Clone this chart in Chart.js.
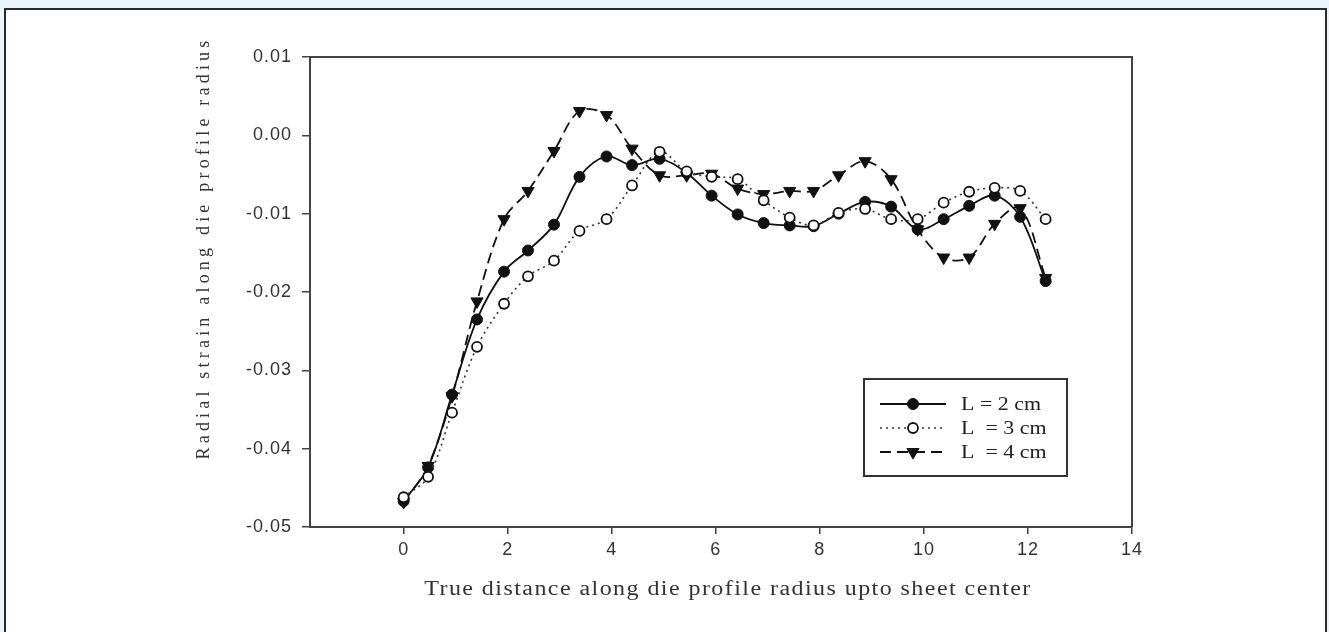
<!DOCTYPE html>
<html>
<head>
<meta charset="utf-8">
<script src="https://cdn.jsdelivr.net/npm/chart.js@4/dist/chart.umd.min.js"></script>
<style>
  body { margin: 0; background: #eaf4fb; width: 1329px; height: 632px; overflow: hidden; position: relative; }
  #frame { position: absolute; left: 4px; top: 8px; width: 1319px; height: 640px; border: 2px solid #2b2b2b; background: #fff; }
  #wrap { position: absolute; left: 0; top: 0; width: 1329px; height: 632px; }
</style>
</head>
<body>
<div id="frame"></div>
<div id="wrap"><canvas id="chart" width="1329" height="632"></canvas></div>
<script>
// 橫軸：沿模具輪廓半徑的真實距離
const distance = [0, 0.47, 0.93, 1.41, 1.93, 2.39, 2.89, 3.38, 3.9, 4.39, 4.92, 5.44, 5.92,
                  6.42, 6.92, 7.42, 7.88, 8.36, 8.87, 9.37, 9.88, 10.38, 10.87, 11.36, 11.85, 12.34];

// 各 L 值的徑向應變
const strainL2 = [-0.0467, -0.0424, -0.0331, -0.0235, -0.0174, -0.0147, -0.0114, -0.0053, -0.0027,
                  -0.0038, -0.0030, -0.0048, -0.0077, -0.0101, -0.0112, -0.0115, -0.0116, -0.0100,
                  -0.0085, -0.0091, -0.0120, -0.0107, -0.0090, -0.0077, -0.0104, -0.0186];
const strainL3 = [-0.0462, -0.0436, -0.0354, -0.0270, -0.0215, -0.0180, -0.0160, -0.0122, -0.0107,
                  -0.0064, -0.0021, -0.0046, -0.0053, -0.0056, -0.0083, -0.0105, -0.0115, -0.0099,
                  -0.0094, -0.0107, -0.0107, -0.0086, -0.0072, -0.0067, -0.0071, -0.0107];
const strainL4 = [-0.0468, -0.0422, -0.0333, -0.0212, -0.0107, -0.0071, -0.0020, 0.0031, 0.0026,
                  -0.0017, -0.0051, -0.0051, -0.0049, -0.0068, -0.0075, -0.0071, -0.0071, -0.0051,
                  -0.0033, -0.0056, -0.0120, -0.0156, -0.0156, -0.0113, -0.0093, -0.0182];

const seriesLabels = ["L = 2 cm", "L  = 3 cm", "L  = 4 cm"];
const xTicks = [0, 2, 4, 6, 8, 10, 12, 14];
const yTicks = [-0.05, -0.04, -0.03, -0.02, -0.01, 0.00, 0.01];

const xTitle = "True distance along die profile radius upto sheet center";
const yTitle = "Radial strain along die profile radius";

function toPoints(ys) {
    return distance.map((x, i) => ({ x: x, y: ys[i] }));
}

// 橫向拉寬的文字
function wideText(ctx, text, x, y, sx) {
    ctx.save();
    ctx.translate(x, y);
    ctx.scale(sx, 1);
    ctx.fillText(text, 0, 0);
    ctx.restore();
}

// 標題、外框與圖例
const decorPlugin = {
    id: "decor",
    beforeDraw(chart) {
        chart.ctx.letterSpacing = "1px";
    },
    afterDraw(chart) {
        const ctx = chart.ctx;
        const area = chart.chartArea;
        ctx.save();
        // 圖框上、右邊線
        ctx.strokeStyle = "#444";
        ctx.lineWidth = 2;
        ctx.beginPath();
        ctx.moveTo(area.left, area.top);
        ctx.lineTo(area.right, area.top);
        ctx.lineTo(area.right, area.bottom);
        ctx.stroke();

        // 軸標題
        ctx.fillStyle = "#333";
        ctx.font = "20px 'Liberation Serif'";
        ctx.textAlign = "center";
        ctx.textBaseline = "middle";
        ctx.letterSpacing = "1.2px";
        wideText(ctx, xTitle, 728, 590, 1.2);
        ctx.translate(204, 248);
        ctx.rotate(-Math.PI / 2);
        ctx.font = "18px 'Liberation Serif'";
        ctx.letterSpacing = "4.2px";
        ctx.fillText(yTitle, 0, 0);
        ctx.restore();

        // 圖例
        ctx.save();
        ctx.letterSpacing = "0px";
        ctx.fillStyle = "#fff";
        ctx.fillRect(864, 379, 203, 97);
        ctx.strokeStyle = "#333";
        ctx.lineWidth = 2;
        ctx.strokeRect(864, 379, 203, 97);
        const rows = [404, 428, 452];
        chart.data.datasets.forEach((ds, i) => {
            const y = rows[i];
            ctx.strokeStyle = ds.borderColor;
            ctx.lineWidth = ds.borderWidth;
            ctx.setLineDash(ds.borderDash || []);
            ctx.beginPath();
            ctx.moveTo(880, y);
            ctx.lineTo(946, y);
            ctx.stroke();
            ctx.setLineDash([]);
            ctx.fillStyle = ds.pointBackgroundColor;
            ctx.strokeStyle = ds.pointBorderColor;
            ctx.lineWidth = ds.pointBorderWidth;
            Chart.helpers.drawPoint(ctx, {
                pointStyle: ds.pointStyle,
                rotation: ds.pointRotation || 0,
                radius: ds.pointRadius,
                borderWidth: ds.pointBorderWidth
            }, 913, y);
            ctx.fillStyle = "#222";
            ctx.font = "18px 'Liberation Serif'";
            ctx.textAlign = "left";
            ctx.textBaseline = "middle";
            wideText(ctx, ds.label, 961, y + 1, 1.22);
        });
        ctx.restore();
    }
};

const ctx = document.getElementById("chart").getContext("2d");
new Chart(ctx, {
    type: "line",
    data: {
        datasets: [
            {
                label: seriesLabels[0],
                data: toPoints(strainL2),
                borderColor: "#111",
                borderWidth: 1.8,
                pointStyle: "circle",
                pointRadius: 5.5,
                pointBackgroundColor: "#111",
                pointBorderColor: "#111",
                pointBorderWidth: 1,
                tension: 0.35,
                order: 2
            },
            {
                label: seriesLabels[1],
                data: toPoints(strainL3),
                borderColor: "#333",
                borderWidth: 1.6,
                borderDash: [2, 4],
                pointStyle: "circle",
                pointRadius: 5,
                pointBackgroundColor: "#fff",
                pointBorderColor: "#111",
                pointBorderWidth: 1.8,
                tension: 0.35,
                order: 1
            },
            {
                label: seriesLabels[2],
                data: toPoints(strainL4),
                borderColor: "#111",
                borderWidth: 1.8,
                borderDash: [11, 6],
                pointStyle: "triangle",
                pointRotation: 180,
                pointRadius: 7,
                pointBackgroundColor: "#111",
                pointBorderColor: "#111",
                pointBorderWidth: 1,
                tension: 0.35,
                order: 3
            }
        ]
    },
    options: {
        responsive: false,
        animation: false,
        layout: { padding: { left: 0, top: 57, right: 197, bottom: 0 } },
        plugins: {
            legend: { display: false },
            tooltip: { enabled: false }
        },
        scales: {
            x: {
                type: "linear",
                min: -1.8,
                max: 14,
                afterBuildTicks: (scale) => { scale.ticks = xTicks.map(v => ({ value: v })); },
                afterFit: (scale) => { scale.height = 105; },
                grid: { display: true, drawOnChartArea: false, drawTicks: true, tickLength: 7, color: "#444", lineWidth: 1.5 },
                border: { display: true, color: "#444", width: 2 },
                ticks: { color: "#333", font: { family: "'Liberation Sans'", size: 18 }, padding: 5 }
            },
            y: {
                type: "linear",
                min: -0.05,
                max: 0.01,
                afterBuildTicks: (scale) => { scale.ticks = yTicks.map(v => ({ value: v })); },
                afterFit: (scale) => { scale.width = 310; },
                grid: { display: true, drawOnChartArea: false, drawTicks: true, tickLength: 8, color: "#444", lineWidth: 1.5 },
                border: { display: true, color: "#444", width: 2 },
                ticks: {
                    color: "#333",
                    font: { family: "'Liberation Sans'", size: 18 },
                    padding: 10,
                    callback: (v) => v.toFixed(2)
                }
            }
        }
    },
    plugins: [decorPlugin]
});
</script>
</body>
</html>
